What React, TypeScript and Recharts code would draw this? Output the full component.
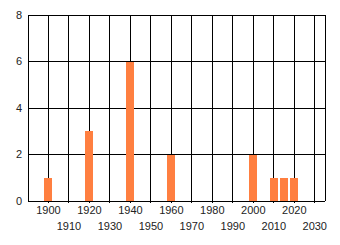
import { BarChart, Bar, XAxis, YAxis, CartesianGrid } from "recharts";

const years = [1900, 1920, 1940, 1960, 2000, 2010, 2015, 2020];
const counts = [1, 3, 6, 2, 2, 1, 1, 1];
const xTicks = [1900, 1910, 1920, 1930, 1940, 1950, 1960, 1970, 1980, 1990, 2000, 2010, 2020, 2030];
const yTicks = [0, 2, 4, 6, 8];

const data = years.map((year, i) => ({ year, count: counts[i] }));

const font = "'Liberation Sans', Arial, sans-serif";

const StaggeredTick = (props: any) => {
  const { x, y, payload, index } = props;
  const lower = index % 2 === 1;
  return (
    <text
      x={x}
      y={y}
      dy={lower ? 27 : 11}
      textAnchor="middle"
      fill="#222"
      fontSize={11}
      fontFamily={font}
    >
      {payload.value}
    </text>
  );
};

const App = () => {
  return (
    <div style={{ position: "absolute", left: 0, top: 0, background: "#fff" }}>
      <style>{`.recharts-cartesian-grid line, .recharts-cartesian-axis-line, .recharts-cartesian-axis-tick-line, .recharts-rectangle { shape-rendering: crispEdges; }`}</style>
      <BarChart
        width={340}
        height={245}
        data={data}
        margin={{ top: 15, right: 15, left: 8, bottom: 14 }}
      >
        <CartesianGrid stroke="#000" strokeWidth={1} />
        <XAxis
          dataKey="year"
          type="number"
          domain={[1890, 2035]}
          ticks={xTicks}
          interval={0}
          height={30}
          tickSize={2}
          tickMargin={0}
          axisLine={{ stroke: "#000" }}
          tickLine={{ stroke: "#000" }}
          tick={<StaggeredTick />}
        />
        <YAxis
          domain={[0, 8]}
          ticks={yTicks}
          width={20}
          axisLine={{ stroke: "#000" }}
          tickLine={false}
          tickSize={4}
          tick={{ fill: "#222", fontSize: 11, fontFamily: font }}
        />
        <Bar dataKey="count" fill="#ff7f40" barSize={8} isAnimationActive={false} />
      </BarChart>
    </div>
  );
};

export default App;
